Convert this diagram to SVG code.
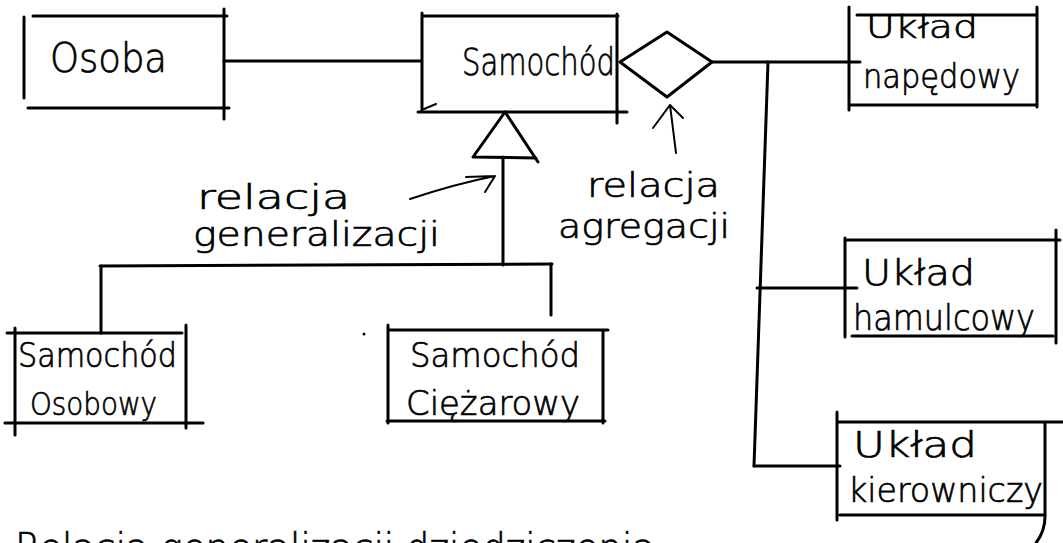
<svg xmlns="http://www.w3.org/2000/svg" width="1063" height="543" viewBox="0 0 1063 543">
  <style>
    .ln { stroke: #000; stroke-width: 3; fill: none; stroke-linecap: round; stroke-linejoin: round; }
    .thin { stroke: #000; stroke-width: 2; fill: none; stroke-linecap: round; stroke-linejoin: round; }
    .lbl { font-family: "DejaVu Sans", "Liberation Sans", sans-serif; font-weight: 200; fill: #000; stroke: #000; stroke-width: 0.7; }
  </style>
  <rect width="1063" height="543" fill="#fff"/>

  <!-- connectors -->
  <g id="connectors">
    <!-- association Osoba - Samochód -->
    <line class="ln" x1="224" y1="61" x2="421" y2="61"/>
    <!-- generalization: triangle and tree -->
    <path class="ln" d="M505,112 L473,157 L536,158 M505,112 L538,162"/>
    <line class="ln" x1="503" y1="157" x2="503" y2="265"/>
    <line class="ln" x1="100" y1="266" x2="552" y2="264"/>
    <line class="ln" x1="101" y1="266" x2="101" y2="333"/>
    <line class="ln" x1="551" y1="264" x2="551" y2="315"/>
    <!-- aggregation: diamond and branches -->
    <polygon class="ln" points="620,62 667,32 712,62 667,97" fill="#fff"/>
    <line class="ln" x1="712" y1="62" x2="860" y2="62"/>
    <line class="ln" x1="768" y1="62" x2="754" y2="466"/>
    <line class="ln" x1="757" y1="288" x2="857" y2="288"/>
    <line class="ln" x1="754" y1="466" x2="840" y2="466"/>
  </g>

  <!-- annotations -->
  <g id="note-generalizacja">
    <path class="thin" d="M410,199 Q455,184 495,176 M466,177 L495,176 L485,192"/>
    <text class="lbl" x="197" y="209" font-size="34" textLength="153" lengthAdjust="spacingAndGlyphs">relacja</text>
    <text class="lbl" x="193" y="246" font-size="33" textLength="247" lengthAdjust="spacingAndGlyphs">generalizacji</text>
  </g>
  <g id="note-agregacja">
    <path class="thin" d="M676,153 L670,105 M653,128 L670,105 L683,118"/>
    <text class="lbl" x="587" y="197" font-size="34" textLength="133" lengthAdjust="spacingAndGlyphs">relacja</text>
    <text class="lbl" x="558" y="238" font-size="34" textLength="172" lengthAdjust="spacingAndGlyphs">agregacji</text>
  </g>

  <!-- classes -->
  <g id="osoba">
    <path class="ln" d="M24,17 V98 M33,16 H227 M224,9 V119 M28,108 H229"/>
    <text class="lbl" x="50" y="72" font-size="40" textLength="117" lengthAdjust="spacingAndGlyphs">Osoba</text>
  </g>

  <g id="samochod">
    <path class="ln" d="M422,13 V110 M422,16 H618 M617,14 V123 M418,112 H627"/>
    <path class="thin" d="M424,109 L436,104"/>
    <text class="lbl" x="462" y="75" font-size="37" textLength="153" lengthAdjust="spacingAndGlyphs">Samochód</text>
  </g>

  <g id="uklad-napedowy">
    <path class="ln" d="M849,7 V110 M857,15 H1037 M1037,7 V107 M850,105 H1037"/>
    <text class="lbl" x="866" y="38" font-size="32" textLength="112" lengthAdjust="spacingAndGlyphs">Układ</text>
    <text class="lbl" x="863" y="88" font-size="33" textLength="157" lengthAdjust="spacingAndGlyphs">napędowy</text>
  </g>

  <g id="uklad-hamulcowy">
    <path class="ln" d="M845,238 V337 M845,240 H1060 M1056,230 V343 M852,336 H1053"/>
    <text class="lbl" x="862" y="285" font-size="35" textLength="113" lengthAdjust="spacingAndGlyphs">Układ</text>
    <text class="lbl" x="853" y="330" font-size="35" textLength="182" lengthAdjust="spacingAndGlyphs">hamulcowy</text>
  </g>

  <g id="uklad-kierowniczy">
    <path class="ln" d="M837,412 V520 M837,422 H1063 M1045,422 V512 Q1046,530 1036,543 M840,515 H1045"/>
    <text class="lbl" x="853" y="457" font-size="35" textLength="124" lengthAdjust="spacingAndGlyphs">Układ</text>
    <text class="lbl" x="848" y="502" font-size="34" textLength="195" lengthAdjust="spacingAndGlyphs">kierowniczy</text>
  </g>

  <g id="samochod-osobowy">
    <path class="ln" d="M7,333 H182 M15,328 V435 M186,325 V428 M5,423 H203"/>
    <text class="lbl" x="18" y="367" font-size="33" textLength="159" lengthAdjust="spacingAndGlyphs">Samochód</text>
    <text class="lbl" x="30" y="415" font-size="32" textLength="127" lengthAdjust="spacingAndGlyphs">Osobowy</text>
  </g>

  <g id="samochod-ciezarowy">
    <path class="ln" d="M388,325 V423 M390,330 H608 M603,330 V423 M387,421 H605"/>
    <circle cx="364" cy="334" r="1.5" fill="#000"/>
    <text class="lbl" x="410" y="367" font-size="34" textLength="170" lengthAdjust="spacingAndGlyphs">Samochód</text>
    <text class="lbl" x="406" y="415" font-size="34" textLength="174" lengthAdjust="spacingAndGlyphs">Ciężarowy</text>
  </g>

  <!-- caption running off the lower edge -->
  <g id="caption">
    <text class="lbl" x="15" y="562" font-size="40" textLength="640" lengthAdjust="spacingAndGlyphs">Relacja generalizacji dziedziczenia</text>
  </g>
</svg>
